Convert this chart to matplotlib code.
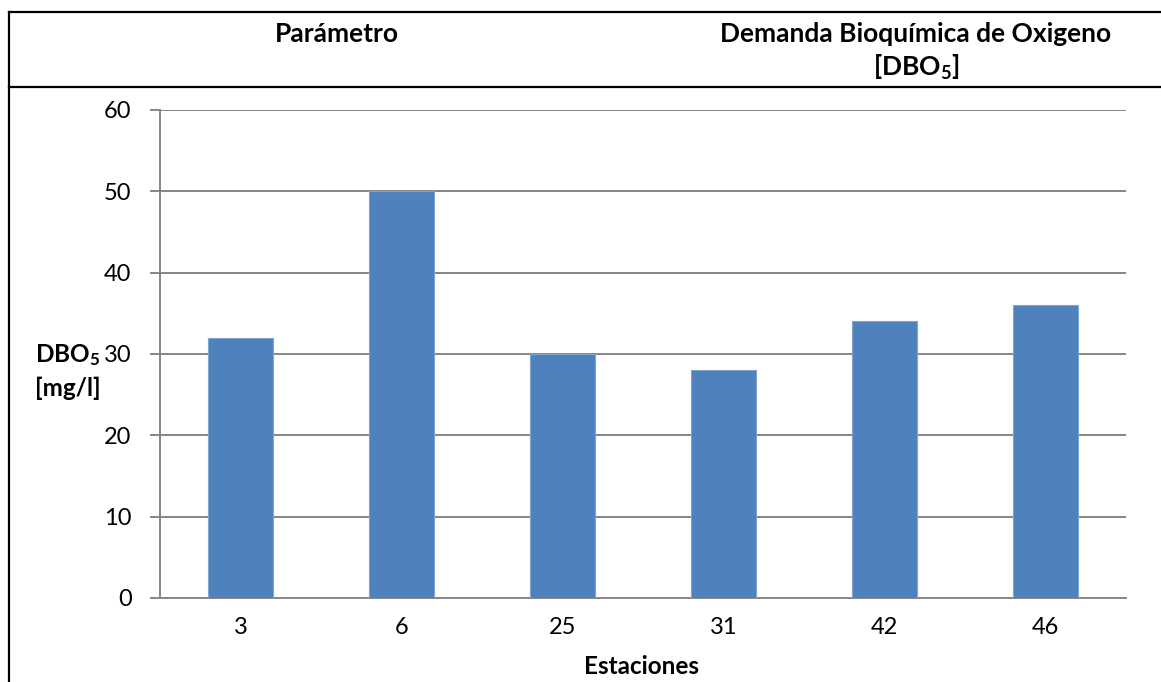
import matplotlib
matplotlib.use("Agg")
import matplotlib.pyplot as plt
from matplotlib.lines import Line2D

# Station data: biochemical oxygen demand (mg/l)
estaciones = ["3", "6", "25", "31", "42", "46"]
dbo5 = [32, 50, 30, 28, 34, 36]
y_ticks = [0, 10, 20, 30, 40, 50, 60]

FONT = "Lato"
plt.rcParams["font.family"] = [FONT, "DejaVu Sans"]
# All math text here is a bold subscript, so map the math roman font to bold
plt.rcParams["mathtext.fontset"] = "custom"
plt.rcParams["mathtext.rm"] = FONT + ":bold"
plt.rcParams["mathtext.it"] = FONT + ":bold"
plt.rcParams["mathtext.bf"] = FONT + ":bold"
plt.rcParams["mathtext.default"] = "rm"

W, H = 1161, 682
fig = plt.figure(figsize=(W / 100, H / 100), dpi=100)

def fx(px):
    return px / W

def fy(py):
    return 1 - py / H

# Table frame around the header and chart
frame_kw = dict(color="black", linewidth=1.6, transform=fig.transFigure)
fig.add_artist(Line2D([fx(9), 1.0], [fy(12), fy(12)], **frame_kw))
fig.add_artist(Line2D([fx(9), 1.0], [fy(87), fy(87)], **frame_kw))
fig.add_artist(Line2D([fx(9), fx(9)], [fy(12), 0.0], **frame_kw))

# Header row
HDR = 19
fig.text(fx(337), fy(34), "Parámetro", ha="center", va="center",
         fontsize=HDR, fontweight="bold")
fig.text(fx(916), fy(34), "Demanda Bioquímica de Oxigeno", ha="center",
         va="center", fontsize=HDR, fontweight="bold")
fig.text(fx(916), fy(67), r"[DBO$_5$]", ha="center",
         va="center", fontsize=HDR, fontweight="bold")

# Chart
ax = fig.add_axes([fx(160), fy(598), fx(1126) - fx(160), fy(110) - fy(598)])
grid_c = "#868686"
x = range(len(estaciones))
ax.bar(x, dbo5, width=0.4, color="#4F81BD", edgecolor="#7FA5D2",
       linewidth=0.8, zorder=3)
ax.set_xlim(-0.5, len(estaciones) - 0.5)
ax.set_ylim(0, 60)
ax.set_yticks(y_ticks)
ax.set_yticklabels([str(v) for v in y_ticks])
ax.set_xticks(list(x))
ax.set_xticklabels(estaciones)
ax.yaxis.grid(True, color=grid_c, linewidth=1.4, zorder=0)
ax.set_axisbelow(True)
for s in ("top", "right"):
    ax.spines[s].set_visible(False)
for s in ("left", "bottom"):
    ax.spines[s].set_color(grid_c)
    ax.spines[s].set_linewidth(1.4)
ax.tick_params(axis="y", length=7, width=1.4, color=grid_c, pad=13.5,
               labelsize=17)
ax.tick_params(axis="x", length=0, pad=14, labelsize=17)

LBL = 17.5
fig.text(fx(641), fy(667), "Estaciones", ha="center", va="center",
         fontsize=LBL, fontweight="bold")
fig.text(fx(68), fy(371), "DBO$_5$\n[mg/l]", ha="center",
         va="center", fontsize=LBL, fontweight="bold", linespacing=1.4)

fig.savefig("out.png", dpi=100, facecolor="white")
